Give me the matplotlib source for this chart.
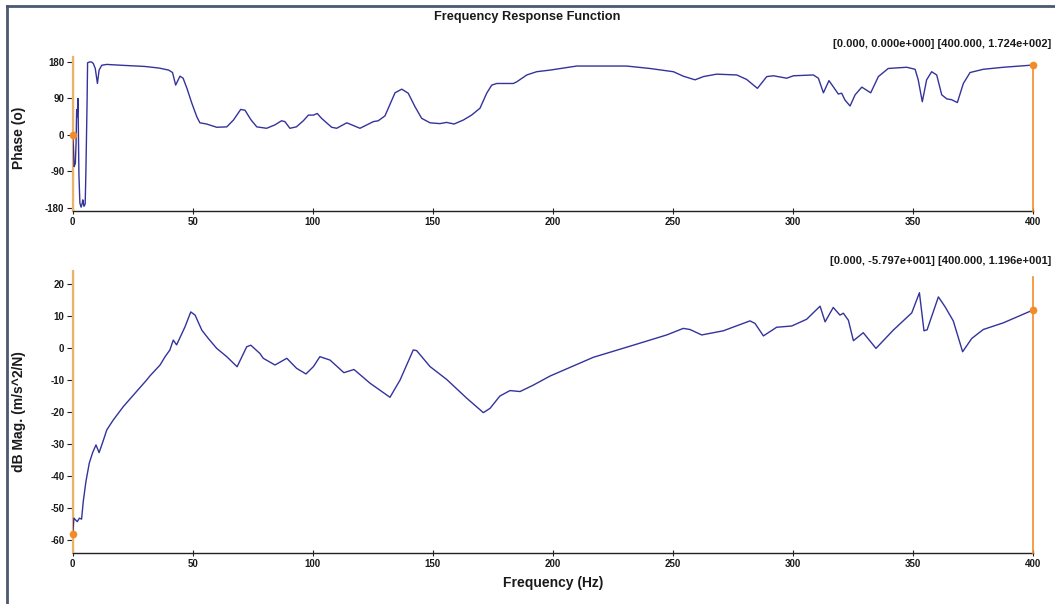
import matplotlib
matplotlib.use("Agg")
import matplotlib.pyplot as plt
from matplotlib.lines import Line2D

plt.rcParams['font.family'] = ['Liberation Sans', 'DejaVu Sans']
plt.rcParams['axes.unicode_minus'] = False

# Phase response (Hz, degrees)
phase_freq = [0, 0.3, 0.6, 1.1, 1.4, 1.65, 1.9, 2.2, 2.6, 3.0, 3.5, 4.0, 4.2, 4.7, 5.2,
              5.5, 6.0, 6.2, 7.0, 7.9, 8.6, 9.4, 10.3, 11.0, 12.1, 14.2, 20, 30, 36, 40,
              41.6, 42.9, 44.7, 46, 47.6, 49.6, 51.7, 53, 55.8, 60, 64.2, 67, 70, 71.8,
              74.2, 76.7, 80.8, 84.3, 87, 88.4, 90.5, 93.2, 96.1, 98.2, 100.3, 101.9,
              103.7, 107.9, 110, 114.2, 119.7, 125.3, 127.3, 130.1, 131.5, 134.3, 137.1,
              139.8, 142.6, 145.4, 148.9, 153, 155.8, 158.9, 162.8, 166.2, 169.7, 172.5,
              174.6, 176.7, 183.6, 185, 189.2, 193.3, 198.9, 210, 230.8, 240.5, 250.3,
              254.4, 259.3, 262.8, 268.3, 276.7, 280.8, 285.3, 289.2, 292, 297.5, 300.3,
              308.6, 310.7, 312.8, 315.1, 316.9, 319, 320.4, 321.8, 323.9, 326, 328.8,
              332.5, 335.7, 339.8, 347.5, 351, 352.3, 354, 355.8, 357.9, 360, 362.1,
              364.2, 366.2, 368.6, 371.1, 373.9, 379.4, 387.8, 400]
phase_deg = [0, -30, -78, -70, -20, 62, 45, 90, -100, -168, -178, -168, -160, -176, -170,
             -90, 85, 178, 180, 180, 176, 164, 127, 160, 172, 174, 172, 169, 165, 160,
             154, 123, 145, 140, 115, 79, 45, 30, 27, 19, 20, 37, 63, 61,
             38, 20, 16.5, 25, 35, 33, 16.5, 20, 35, 49, 49, 53,
             41, 19, 16.5, 30, 16.5, 33, 35, 47, 66, 104, 113,
             103, 70, 41, 30, 28, 31, 27, 37, 49, 66, 103,
             123, 127, 127, 131, 148, 156, 160, 170, 170, 164, 156,
             145, 136, 144, 150, 148, 137, 115, 144, 146, 140, 146,
             148, 140, 104, 134, 119, 101, 103, 86, 71.5, 99, 118,
             104, 144, 164, 167, 162, 136, 82, 136, 156, 148, 99,
             89, 87, 80, 127, 154, 162, 167, 172.4]

# Magnitude response (Hz, dB re m/s^2/N)
mag_freq = [0, 0.5, 1.9, 2.8, 3.7, 4.4, 5.5, 6.9, 8.3, 9.7, 11, 12.8, 14.2, 16.9, 21.1,
            25.3, 30.8, 32.2, 36.4, 38.5, 40.5, 41.9, 43.3, 46.8, 49.2, 51, 53.8, 56.5,
            60, 64.2, 68.5, 72.5, 74.2, 78, 79.4, 84.3, 89.2, 93.3, 97.2, 100.3, 103,
            107.2, 113, 117.2, 123.9, 132.2, 136.4, 141.9, 143.3, 148.9, 155.8, 164.2,
            171.1, 173.9, 178, 182.2, 186.4, 191.9, 198.9, 216.9, 233.6, 247.5, 254.4,
            257.2, 262.1, 271.1, 282.2, 284.3, 287.8, 293.3, 299.6, 305.8, 311.4, 313.5,
            316.9, 319.7, 321.1, 323.2, 325.3, 329.4, 334.7, 341.9, 349.6, 352.8, 354.7,
            356, 360.7, 363.5, 366.9, 370.8, 374.6, 379.4, 387.8, 400]
mag_db = [-57.97, -53.1, -54.2, -53.1, -53.4, -47.9, -41.7, -35.9, -32.6, -30.2, -32.6,
          -28.7, -25.5, -22.4, -18.2, -14.6, -9.9, -8.6, -5.2, -2.6, -0.5, 2.6, 1.1, 6.75,
          11.4, 10.4, 5.7, 3.1, 0.0, -2.6, -5.75, 0.5, 1.0, -1.6, -3.1, -5.2, -3.1, -6.25,
          -8.0, -5.7, -2.6, -3.65, -7.6, -6.6, -10.9, -15.3, -9.9, -0.5, -0.7, -5.7, -9.7,
          -15.6, -20.1, -18.75, -14.9, -13.2, -13.5, -11.5, -8.65, -2.8, 1.0, 4.2, 6.25,
          5.9, 4.2, 5.5, 8.6, 7.8, 3.9, 6.6, 7.0, 9.1, 13.2, 8.3, 12.8, 10.4, 11.0, 8.8,
          2.4, 4.9, 0.0, 5.7, 11.1, 17.4, 5.5, 5.8, 16.1, 13.0, 8.6, -1.05, 3.1, 5.9, 8.0,
          11.96]

freq_ticks = [0, 50, 100, 150, 200, 250, 300, 350, 400]
phase_ticks = [-180, -90, 0, 90, 180]
mag_ticks = [-60, -50, -40, -30, -20, -10, 0, 10, 20]

# Cursor readouts at both ends of the band
cursor_freq = [0.0, 400.0]
cursor_phase = [0.0, 172.4]
cursor_mag = [-57.97, 11.96]

W, H = 1055, 604
fig = plt.figure(figsize=(W / 100, H / 100), dpi=100)
fig.patch.set_facecolor('white')

LINE = '#33339c'
ORANGE = '#f28c28'
TAN = '#e8b46c'
TXT = '#1a1a1a'


def px_axes(left, top, right, bottom):
    return fig.add_axes([left / W, 1 - bottom / H, (right - left) / W, (bottom - top) / H])


def style(ax, yticks):
    for s in ('top', 'right'):
        ax.spines[s].set_visible(False)
    ax.spines['bottom'].set_color('#222222')
    ax.spines['bottom'].set_linewidth(1.0)
    # the left cursor sits on the y axis, so the axis line takes its colour
    ax.spines['left'].set_color(TAN)
    ax.spines['left'].set_linewidth(1.6)
    ax.set_xlim(0, 400)
    ax.set_xticks(freq_ticks)
    ax.set_yticks(yticks)
    ax.tick_params(axis='x', direction='inout', length=5, width=0.8, colors='#222222',
                   labelsize=7, pad=2)
    ax.tick_params(axis='y', direction='out', length=4, width=0.8, colors='#222222',
                   labelsize=7, pad=2)
    for lab in ax.get_xticklabels() + ax.get_yticklabels():
        lab.set_fontweight('bold')
        lab.set_color(TXT)


# Phase panel
ax1 = px_axes(72.7, 57, 1032.7, 211)
ax1.plot(phase_freq, phase_deg, color=LINE, lw=1.0, zorder=3)
ax1.set_ylim(-187.5, 192.3)
style(ax1, phase_ticks)
ax1.axvline(cursor_freq[0], color=TAN, lw=1.6, zorder=2.7)
ax1.plot([cursor_freq[1], cursor_freq[1]], [-187.5, cursor_phase[1]], color=ORANGE,
         lw=1.2, zorder=2.7, clip_on=False)
ax1.plot(cursor_freq, cursor_phase, 'o', color=ORANGE, ms=4.5, zorder=4, clip_on=False)

# Magnitude panel
ax2 = px_axes(72.7, 271, 1032.7, 553)
ax2.plot(mag_freq, mag_db, color=LINE, lw=1.0, zorder=3)
ax2.set_ylim(-64, 24.2)
style(ax2, mag_ticks)
ax2.axvline(cursor_freq[0], color=TAN, lw=1.6, zorder=2.7)
ax2.plot([cursor_freq[1], cursor_freq[1]], [-64, 22.2], color=ORANGE, lw=1.2, zorder=2.7,
         clip_on=False)
ax2.plot(cursor_freq, cursor_mag, 'o', color=ORANGE, ms=4.5, zorder=4, clip_on=False)

# Titles and labels
fig.text(527 / W, 1 - 17 / H, 'Frequency Response Function', ha='center', va='center',
         fontsize=9.2, fontweight='bold', color=TXT)
fig.text(19 / W, 1 - 138 / H, 'Phase (o)', ha='center', va='center', rotation=90,
         fontsize=10, fontweight='bold', color=TXT)
fig.text(19 / W, 1 - 412 / H, 'dB Mag. (m/s^2/N)', ha='center', va='center', rotation=90,
         fontsize=10, fontweight='bold', color=TXT)
fig.text(552.7 / W, 1 - 583 / H, 'Frequency (Hz)', ha='center', va='center',
         fontsize=10, fontweight='bold', color=TXT)

# Cursor readout strings
fig.text(1051 / W, 1 - 44 / H,
         f'[{cursor_freq[0]:.3f}, 0.000e+000] [{cursor_freq[1]:.3f}, 1.724e+002]',
         ha='right', va='center', fontsize=8, fontweight='bold', color=TXT)
fig.text(1051 / W, 1 - 261 / H,
         f'[{cursor_freq[0]:.3f}, -5.797e+001] [{cursor_freq[1]:.3f}, 1.196e+001]',
         ha='right', va='center', fontsize=8, fontweight='bold', color=TXT)

# Window frame (left and top edges)
frame = '#4a5870'
fig.add_artist(Line2D([7 / W, 7 / W], [0, 1 - 5.5 / H], color=frame, lw=2.0,
                      transform=fig.transFigure))
fig.add_artist(Line2D([7 / W, 1], [1 - 5.5 / H, 1 - 5.5 / H], color=frame, lw=2.0,
                      transform=fig.transFigure))

fig.savefig('out.png', dpi=100, facecolor='white')
